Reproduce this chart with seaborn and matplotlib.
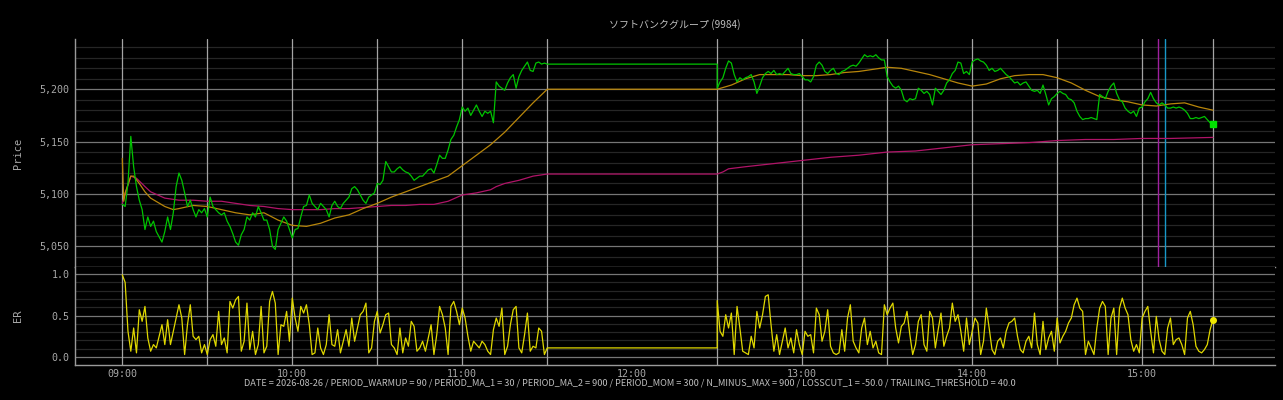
import numpy as np
import pandas as pd
import matplotlib
matplotlib.use("Agg")
import matplotlib.pyplot as plt
import seaborn as sns
from matplotlib.ticker import MultipleLocator, FixedLocator, FuncFormatter, NullFormatter, NullLocator

# ---------------- data (minutes since 09:00) ----------------
title = "ソフトバンクグループ (9984)"
footer = ("DATE = 2026-08-26 / PERIOD_WARMUP = 90 / PERIOD_MA_1 = 30 / PERIOD_MA_2 = 900 / "
          "PERIOD_MOM = 300 / N_MINUS_MAX = 900 / LOSSCUT_1 = -50.0 / TRAILING_THRESHOLD = 40.0")

am_open = 0      # 09:00
am_close = 150   # 11:30
pm_open = 210    # 12:30
pm_close = 385   # 15:25

price_am = [5090, 5088, 5110, 5155, 5126, 5107, 5094, 5085, 5066, 5078,
            5069, 5074, 5064, 5059, 5054, 5064, 5078, 5066, 5082, 5107,
            5120, 5113, 5101, 5088, 5094, 5085, 5078, 5085, 5082, 5086,
            5078, 5097, 5088, 5085, 5082, 5080, 5082, 5074, 5069, 5062,
            5054, 5051, 5061, 5066, 5078, 5075, 5082, 5078, 5088, 5082,
            5075, 5075, 5066, 5050, 5047, 5066, 5072, 5078, 5074, 5066,
            5058, 5066, 5067, 5078, 5088, 5089, 5099, 5091, 5088, 5085,
            5091, 5088, 5085, 5078, 5089, 5093, 5088, 5086, 5091, 5094,
            5097, 5105, 5107, 5104, 5099, 5094, 5091, 5097, 5099, 5101,
            5110, 5109, 5113, 5131, 5126, 5121, 5121, 5124, 5126, 5123,
            5121, 5120, 5117, 5113, 5115, 5117, 5117, 5120, 5123, 5124,
            5120, 5128, 5137, 5134, 5134, 5142, 5152, 5156, 5164, 5171,
            5183, 5179, 5182, 5175, 5180, 5185, 5179, 5174, 5179, 5177,
            5179, 5168, 5207, 5203, 5201, 5199, 5206, 5211, 5214, 5201,
            5212, 5218, 5222, 5226, 5218, 5217, 5225, 5226, 5224, 5225,
            5224]

price_pm = [5201, 5207, 5211, 5220, 5227, 5225, 5214, 5207, 5211, 5209,
            5211, 5212, 5214, 5207, 5196, 5203, 5211, 5215, 5217, 5215,
            5218, 5214, 5215, 5214, 5217, 5220, 5215, 5214, 5214, 5215,
            5212, 5209, 5209, 5207, 5212, 5223, 5226, 5223, 5217, 5215,
            5218, 5220, 5215, 5214, 5217, 5218, 5220, 5222, 5223, 5222,
            5225, 5229, 5233, 5231, 5232, 5231, 5233, 5230, 5228, 5228,
            5212, 5207, 5203, 5201, 5203, 5199, 5190, 5188, 5191, 5190,
            5191, 5201, 5199, 5196, 5198, 5195, 5185, 5201, 5198, 5195,
            5199, 5206, 5209, 5215, 5218, 5226, 5225, 5215, 5217, 5214,
            5226, 5228, 5229, 5227, 5226, 5223, 5218, 5220, 5217, 5218,
            5220, 5217, 5214, 5212, 5209, 5206, 5207, 5204, 5206, 5207,
            5203, 5199, 5198, 5199, 5196, 5204, 5195, 5185, 5191, 5193,
            5196, 5198, 5196, 5195, 5191, 5190, 5187, 5179, 5174, 5171,
            5172, 5172, 5173, 5172, 5171, 5195, 5193, 5191, 5198, 5203,
            5206, 5196, 5190, 5188, 5182, 5179, 5177, 5179, 5174, 5182,
            5183, 5188, 5191, 5197, 5191, 5187, 5185, 5187, 5185, 5182,
            5182, 5183, 5182, 5183, 5182, 5180, 5177, 5172, 5172, 5173,
            5172, 5173, 5174, 5171, 5168, 5167]

ma1_am_t = [0, 0.5, 1, 3, 4, 6, 8, 10, 15, 18, 20, 25, 30, 35, 40, 45, 50, 55, 60,
            65, 70, 75, 80, 85, 90, 95, 100, 105, 110, 115, 120, 125, 130, 135,
            140, 145, 150]
ma1_am = [5134, 5093, 5101, 5117, 5117, 5110, 5102, 5096, 5088, 5085, 5086, 5089,
          5088, 5085, 5082, 5080, 5082, 5075, 5070, 5069, 5072, 5077, 5080, 5086,
          5091, 5097, 5102, 5107, 5112, 5117, 5127, 5137, 5147, 5159, 5173, 5187, 5200]
ma1_pm_t = [0, 5, 10, 15, 20, 25, 30, 35, 40, 45, 50, 55, 60, 65, 70, 75, 80, 85,
            90, 95, 100, 105, 110, 115, 120, 125, 130, 135, 140, 145, 150, 155,
            160, 165, 170, 175]
ma1_pm = [5200, 5204, 5210, 5214, 5214, 5214, 5213, 5213, 5214, 5216, 5217, 5219,
          5221, 5220, 5217, 5214, 5210, 5206, 5203, 5205, 5210, 5213, 5214, 5214,
          5211, 5206, 5199, 5193, 5190, 5188, 5185, 5184, 5186, 5187, 5183, 5180]

ma2_am_t = [0, 1, 3, 5, 8, 10, 15, 20, 25, 30, 35, 40, 45, 50, 55, 60, 65, 70, 75,
            80, 85, 90, 95, 100, 105, 110, 115, 120, 125, 130, 132, 135, 140, 145, 150]
ma2_am = [5091, 5100, 5117, 5115, 5107, 5102, 5096, 5094, 5094, 5093, 5093, 5091,
          5089, 5088, 5086, 5085, 5085, 5085, 5086, 5086, 5087, 5088, 5089, 5089,
          5090, 5090, 5093, 5099, 5101, 5104, 5107, 5110, 5113, 5117, 5119]
ma2_pm_t = [0, 2, 4, 10, 20, 30, 40, 50, 60, 70, 80, 90, 100, 110, 120, 130, 140,
            150, 160, 175]
ma2_pm = [5119, 5121, 5124, 5126, 5129, 5132, 5135, 5137, 5140, 5141, 5144, 5147,
          5148, 5149, 5151, 5152, 5152, 5153, 5153, 5154]

er_am = [0.99, 0.90, 0.31, 0.07, 0.35, 0.05, 0.57, 0.43, 0.61, 0.23,
         0.07, 0.15, 0.11, 0.25, 0.39, 0.15, 0.45, 0.15, 0.31, 0.47,
         0.63, 0.47, 0.03, 0.39, 0.63, 0.25, 0.21, 0.25, 0.05, 0.15,
         0.03, 0.21, 0.27, 0.13, 0.55, 0.15, 0.23, 0.05, 0.67, 0.59,
         0.69, 0.73, 0.07, 0.19, 0.65, 0.09, 0.31, 0.03, 0.15, 0.61,
         0.05, 0.13, 0.67, 0.79, 0.65, 0.03, 0.39, 0.37, 0.55, 0.19,
         0.71, 0.47, 0.31, 0.61, 0.53, 0.63, 0.39, 0.03, 0.05, 0.35,
         0.11, 0.03, 0.15, 0.51, 0.15, 0.13, 0.33, 0.05, 0.19, 0.33,
         0.13, 0.47, 0.19, 0.35, 0.51, 0.55, 0.65, 0.05, 0.11, 0.43,
         0.55, 0.29, 0.39, 0.51, 0.53, 0.15, 0.11, 0.03, 0.35, 0.05,
         0.23, 0.13, 0.43, 0.37, 0.07, 0.11, 0.19, 0.07, 0.23, 0.39,
         0.03, 0.27, 0.61, 0.51, 0.35, 0.03, 0.61, 0.67, 0.55, 0.39,
         0.59, 0.47, 0.25, 0.07, 0.19, 0.15, 0.11, 0.19, 0.15, 0.07,
         0.03, 0.33, 0.47, 0.37, 0.59, 0.03, 0.13, 0.39, 0.57, 0.61,
         0.11, 0.05, 0.27, 0.53, 0.07, 0.13, 0.11, 0.35, 0.31, 0.03,
         0.11]
er_pm = [0.68, 0.31, 0.25, 0.51, 0.35, 0.53, 0.03, 0.61, 0.35, 0.07,
         0.05, 0.03, 0.25, 0.11, 0.55, 0.35, 0.51, 0.73, 0.75, 0.39,
         0.07, 0.27, 0.03, 0.19, 0.35, 0.11, 0.23, 0.05, 0.33, 0.15,
         0.03, 0.31, 0.25, 0.27, 0.05, 0.59, 0.51, 0.19, 0.31, 0.57,
         0.13, 0.05, 0.03, 0.05, 0.33, 0.07, 0.47, 0.63, 0.19, 0.11,
         0.05, 0.35, 0.47, 0.15, 0.31, 0.11, 0.19, 0.05, 0.03, 0.63,
         0.51, 0.59, 0.65, 0.35, 0.17, 0.37, 0.41, 0.55, 0.27, 0.03,
         0.15, 0.43, 0.51, 0.15, 0.07, 0.55, 0.47, 0.11, 0.33, 0.53,
         0.13, 0.25, 0.35, 0.65, 0.43, 0.51, 0.31, 0.07, 0.47, 0.15,
         0.31, 0.47, 0.41, 0.03, 0.19, 0.59, 0.35, 0.09, 0.03, 0.19,
         0.23, 0.11, 0.31, 0.41, 0.43, 0.47, 0.25, 0.09, 0.05, 0.19,
         0.25, 0.11, 0.53, 0.15, 0.03, 0.43, 0.09, 0.23, 0.31, 0.07,
         0.47, 0.17, 0.25, 0.31, 0.41, 0.47, 0.63, 0.71, 0.59, 0.55,
         0.03, 0.19, 0.11, 0.03, 0.35, 0.59, 0.67, 0.61, 0.03, 0.47,
         0.59, 0.03, 0.59, 0.71, 0.59, 0.51, 0.21, 0.07, 0.15, 0.05,
         0.47, 0.55, 0.61, 0.31, 0.05, 0.49, 0.21, 0.07, 0.03, 0.35,
         0.47, 0.15, 0.21, 0.23, 0.15, 0.03, 0.47, 0.55, 0.39, 0.13,
         0.07, 0.05, 0.09, 0.15, 0.33, 0.45]

session_lines = [0, 30, 60, 90, 120, 150, 210, 240, 270, 300, 330, 360, 385]
hour_ticks = [0, 60, 120, 180, 240, 300, 360]
hour_labels = ["09:00", "10:00", "11:00", "12:00", "13:00", "14:00", "15:00"]
entry_line = 365.6   # purple
exit_line = 368.0    # cyan

# ---------------- helpers ----------------
def session_frame(am_t, am_v, pm_t, pm_v):
    t = [am_open + x for x in am_t] + [pm_open] + [pm_open + x for x in pm_t]
    v = list(am_v) + [am_v[-1]] + list(pm_v)
    return pd.DataFrame({"t": t, "v": v})

price_df = session_frame(list(range(len(price_am))), price_am,
                         list(range(len(price_pm))), price_pm)
ma1_df = session_frame(ma1_am_t, ma1_am, ma1_pm_t, ma1_pm)
ma2_df = session_frame(ma2_am_t, ma2_am, ma2_pm_t, ma2_pm)
er_df = session_frame(list(range(len(er_am))), er_am,
                      list(range(len(er_pm))), er_pm)

# ---------------- style ----------------
BG = "#000000"
sns.set_style("dark", rc={"axes.facecolor": BG, "figure.facecolor": BG})
plt.rcParams["font.family"] = ["DejaVu Sans Mono", "Noto Sans CJK JP"]
TICK_C = "#a8a8a8"
SPINE_C = "#9a9a9a"
VLINE_C = "#a4a4a4"
MAJ_C = "#767676"
MIN_C = "#262626"

fig = plt.figure(figsize=(12.83, 4.0), dpi=100)
fig.patch.set_facecolor(BG)
L, W = 75 / 1283, 1200 / 1283
ax1 = fig.add_axes([L, 1 - 267 / 400, W, 228 / 400])
ax2 = fig.add_axes([L, 1 - 365 / 400, W, 98 / 400])

xlim = (-16.7, 406.9)
for ax in (ax1, ax2):
    ax.set_facecolor(BG)
    for s in ("top", "right"):
        ax.spines[s].set_visible(False)
    for s in ("left", "bottom"):
        ax.spines[s].set_color(SPINE_C)
        ax.spines[s].set_linewidth(1.0)
    ax.grid(False)
    ax.set_axisbelow(True)
    for x in session_lines:
        ax.axvline(x, color=VLINE_C, lw=0.9, zorder=1)

# price panel
sns.lineplot(data=ma2_df, x="t", y="v", ax=ax1, color="#b01468", lw=0.9,
             estimator=None, sort=False, zorder=3)
sns.lineplot(data=ma1_df, x="t", y="v", ax=ax1, color="#b8860b", lw=0.9,
             estimator=None, sort=False, zorder=4)
sns.lineplot(data=price_df, x="t", y="v", ax=ax1, color="#00c400", lw=0.9,
             estimator=None, sort=False, zorder=5)
ax1.plot([pm_open + len(price_pm) - 1], [price_pm[-1]], "s", color="#00e000",
         ms=4, zorder=6)
ax1.axvline(entry_line, color="#a020a0", lw=1.0, zorder=2)
ax1.axvline(exit_line, color="#1899c8", lw=1.0, zorder=2)

# ER panel
sns.lineplot(data=er_df, x="t", y="v", ax=ax2, color="#e0d800", lw=0.9,
             estimator=None, sort=False, zorder=5)
ax2.plot([pm_open + len(er_pm) - 1], [er_pm[-1]], "o", color="#f0e800", ms=4, zorder=6)

# axes formatting after plotting
ax1.set_xlim(*xlim)
ax1.set_ylim(5030.2, 5248.0)
ax1.yaxis.set_major_locator(MultipleLocator(50))
ax1.yaxis.set_minor_locator(MultipleLocator(10))
ax1.yaxis.set_major_formatter(FuncFormatter(lambda v, p: f"{v:,.0f}"))
ax1.xaxis.set_major_locator(FixedLocator(hour_ticks))
ax1.xaxis.set_minor_locator(NullLocator())
ax1.xaxis.set_major_formatter(NullFormatter())
ax1.tick_params(axis="x", direction="in", length=4, color=SPINE_C, labelbottom=False)
ax1.tick_params(axis="y", which="both", length=0, pad=4, labelsize=7.2, labelcolor=TICK_C)
ax1.yaxis.grid(True, which="major", color=MAJ_C, lw=0.9)
ax1.yaxis.grid(True, which="minor", color=MIN_C, lw=0.9)
ax1.set_xlabel("")
ax1.set_ylabel("Price", color=TICK_C, fontsize=7.5)
ax1.yaxis.set_label_coords(-0.043, 0.5)

ax2.set_xlim(*xlim)
ax2.set_ylim(-0.096, 1.085)
ax2.yaxis.set_major_locator(MultipleLocator(0.5))
ax2.yaxis.set_minor_locator(MultipleLocator(0.1))
ax2.yaxis.set_major_formatter(FuncFormatter(lambda v, p: f"{v:.1f}"))
ax2.xaxis.set_major_locator(FixedLocator(hour_ticks))
ax2.xaxis.set_minor_locator(NullLocator())
ax2.set_xticklabels(hour_labels)
ax2.tick_params(axis="x", length=0, pad=3, labelsize=7.2, labelcolor=TICK_C)
ax2.tick_params(axis="y", which="both", length=0, pad=4, labelsize=7.2, labelcolor=TICK_C)
ax2.yaxis.grid(True, which="major", color=MAJ_C, lw=0.9)
ax2.yaxis.grid(True, which="minor", color=MIN_C, lw=0.9)
ax2.set_xlabel("")
ax2.set_ylabel("ER", color=TICK_C, fontsize=7.5)
ax2.yaxis.set_label_coords(-0.043, 0.5)

fig.text(675 / 1283, 1 - 25 / 400, title, ha="center", va="center",
         fontsize=7.2, color="#bdbdbd", family=["Noto Sans CJK JP", "DejaVu Sans"])
fig.text(630 / 1283, 1 - 383 / 400, footer, ha="center", va="center",
         fontsize=6.6, color="#bdbdbd", family=["Noto Sans CJK JP", "DejaVu Sans"])

fig.savefig("out.png", dpi=100, facecolor=BG)
